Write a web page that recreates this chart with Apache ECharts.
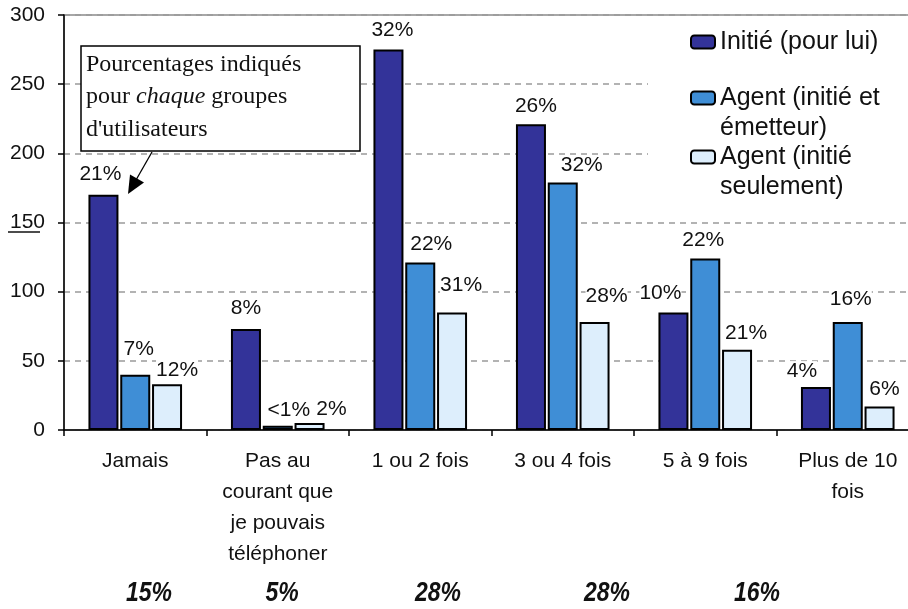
<!DOCTYPE html>
<html>
<head>
<meta charset="utf-8">
<script src="https://cdn.jsdelivr.net/npm/echarts@6/dist/echarts.min.js"></script>
<style>html,body{margin:0;padding:0;background:#fff}#c{width:908px;height:609px}</style>
</head>
<body>
<div id="c"></div>
<script>
const categories = ['Jamais', 'Pas au\ncourant que\nje pouvais\ntéléphoner', '1 ou 2 fois', '3 ou 4 fois', '5 à 9 fois', 'Plus de 10\nfois'];
const seriesNames = ['Initié (pour lui)', 'Agent (initié et émetteur)', 'Agent (initié seulement)'];
const legendLabels = ['Initié (pour lui)', '\nAgent (initié et\németteur)', '\nAgent (initié\nseulement)'];
const initieValues = [170, 73, 275, 221, 85, 31];
const agentEmetteurValues = [40, 3, 121, 179, 124, 78];
const agentSeulValues = [33, 5, 85, 78, 58, 17];
const initieLabels = ['21%', '8%', '32%', '26%', '10%', '4%'];
const agentEmetteurLabels = ['7%', '<1%', '22%', '32%', '22%', '16%'];
const agentSeulLabels = ['12%', '2%', '31%', '28%', '21%', '6%'];
const groupShares = ['15%', '5%', '28%', '28%', '16%'];
const yTicks = [0, 50, 100, 150, 200, 250, 300];
const noteText = "Pourcentages indiqués\npour {i|chaque} groupes\nd'utilisateurs";

// layout tweaks for label placement (dx, height of label centre above bar)
const labelLayout = [
  [[-3, 20.5], [0, 21], [4, 19.5], [5, 18], [-13, 19.5], [-14, 15.5]],
  [[3.5, 25.5], [11, 16], [11, 18.5], [19, 17], [-2, 18], [3, 22.5]],
  [[10, 14], [22, 13.5], [9, 27], [12, 25.5], [9, 16.5], [5, 17]]
];
const colors = ['#333399', '#3F8ED6', '#DDEEFC'];
const FONT = "'Liberation Sans', Arial, sans-serif";

function mkData(vals, labels, si) {
  return vals.map((v, i) => ({
    value: v,
    label: {
      formatter: labels[i],
      offset: [labelLayout[si][i][0], -(labelLayout[si][i][1] - 10.5)]
    }
  }));
}

const valueSets = [initieValues, agentEmetteurValues, agentSeulValues];
const labelSets = [initieLabels, agentEmetteurLabels, agentSeulLabels];

const series = seriesNames.map((name, si) => ({
  name: name,
  type: 'bar',
  barWidth: 30,
  barGap: '6%',
  itemStyle: { color: colors[si], borderColor: '#000', borderWidth: 2 },
  label: {
    show: true, position: 'top', distance: 0,
    fontFamily: FONT, fontSize: 21, color: '#111',
    backgroundColor: '#fff', padding: 0
  },
  emphasis: { disabled: true },
  data: mkData(valueSets[si], labelSets[si], si)
}));

const legendTops = [27, 53, 112];
const legends = seriesNames.map((name, i) => ({
  data: [name],
  orient: 'vertical',
  left: 690,
  top: legendTops[i],
  padding: 0,
  itemWidth: 24,
  itemHeight: 13,
  itemGap: 0,
  selectedMode: false,
  formatter: () => legendLabels[i],
  textStyle: { fontFamily: FONT, fontSize: 25, lineHeight: 30, color: '#111' }
}));

const shareX = [149, 282, 438, 607, 757];

const graphics = [
  { type: 'rect', z: 1, silent: true, shape: { x: 648, y: 17, width: 262, height: 186 }, style: { fill: '#fff' } },
  { type: 'rect', z: 10, shape: { x: 81, y: 46, width: 279, height: 105 }, style: { fill: '#fff', stroke: '#000', lineWidth: 1.5 } },
  { type: 'text', z: 11, left: 86, top: 48, style: {
      text: noteText, fontFamily: "'Liberation Serif', 'Times New Roman', serif", fontSize: 24, lineHeight: 32.5, fill: '#111',
      rich: { i: { fontStyle: 'italic', fontFamily: "'Liberation Serif', 'Times New Roman', serif", fontSize: 24 } }
  } },
  { type: 'line', z: 10, shape: { x1: 152, y1: 152, x2: 136, y2: 180 }, style: { stroke: '#000', lineWidth: 1.3 } },
  { type: 'polygon', z: 10, shape: { points: [[128, 194], [130, 174.5], [144, 182.5]] }, style: { fill: '#000' } },
  { type: 'line', z: 10, shape: { x1: 8, y1: 232, x2: 40, y2: 232 }, style: { stroke: '#111', lineWidth: 1.5 } }
];
groupShares.forEach((s, i) => {
  graphics.push({ type: 'text', z: 10, x: shareX[i], y: 593, scaleX: 0.82, style: {
    text: s, fontFamily: FONT,
    fontSize: 28, fontWeight: 'bold', fontStyle: 'italic', fill: '#111', align: 'center', verticalAlign: 'middle'
  } });
});

const chart = echarts.init(document.getElementById('c'), null, { renderer: 'canvas' });
chart.setOption({
  animation: false,
  backgroundColor: '#fff',
  grid: { left: 64, top: 15, width: 855, height: 415, containLabel: false, outerBoundsMode: 'none',
    show: true, borderColor: '#8a8a8a', borderWidth: 1.5, backgroundColor: 'transparent' },
  legend: legends,
  xAxis: {
    type: 'category',
    data: categories,
    axisLine: { lineStyle: { color: '#000', width: 1.5 } },
    axisTick: { show: true, length: 6, lineStyle: { color: '#000', width: 1.5 } },
    axisLabel: { interval: 0, margin: 16, fontFamily: FONT, fontSize: 21, lineHeight: 31, color: '#111' }
  },
  yAxis: {
    type: 'value',
    min: 0, max: 300, interval: 50,
    axisLine: { show: true, lineStyle: { color: '#000', width: 1.5 } },
    axisTick: { show: true, length: 6, lineStyle: { color: '#000', width: 1.5 } },
    axisLabel: { margin: 19, fontFamily: FONT, fontSize: 21, color: '#111',
      formatter: v => yTicks.includes(v) ? String(v) : '' },
    splitLine: { show: true, lineStyle: { type: [6, 5], color: '#9a9a9a', width: 1.5 } }
  },
  series: series,
  graphic: graphics
});
</script>
</body>
</html>
